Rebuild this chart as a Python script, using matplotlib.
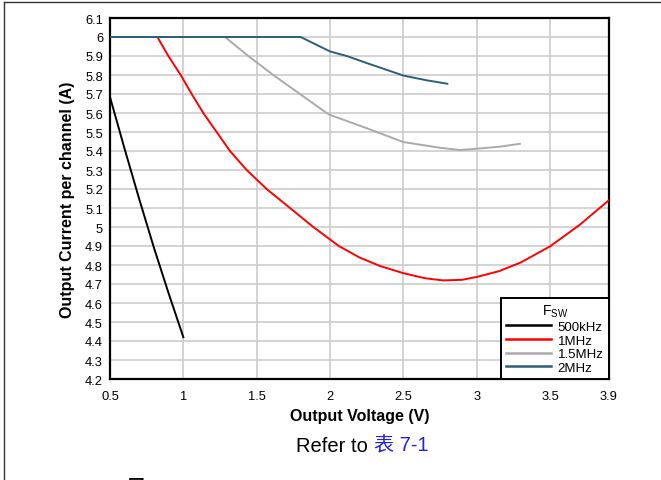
import matplotlib
matplotlib.use("Agg")
import matplotlib.pyplot as plt
from matplotlib.lines import Line2D

plt.rcParams['font.family'] = ['Liberation Sans', 'Noto Sans CJK SC', 'DejaVu Sans']
plt.rcParams['mathtext.fontset'] = 'custom'
plt.rcParams['mathtext.rm'] = 'Liberation Sans'

# data
v_500k = [0.5, 0.6, 0.7, 0.8, 0.9, 1.0]
i_500k = [5.684, 5.41, 5.145, 4.89, 4.65, 4.42]

v_1m = [0.5, 0.823, 0.898, 0.982, 1.057, 1.136, 1.227, 1.318, 1.432, 1.568, 1.727,
        1.886, 2.06, 2.2, 2.34, 2.5, 2.65, 2.77, 2.9, 3.0, 3.15, 3.3, 3.5, 3.7, 3.9]
i_1m = [6.0, 6.0, 5.9, 5.8, 5.7, 5.6, 5.5, 5.4, 5.3, 5.2, 5.1,
        5.0, 4.9, 4.84, 4.795, 4.757, 4.73, 4.719, 4.722, 4.737, 4.767, 4.813, 4.898, 5.01, 5.14]

v_1m5 = [0.5, 1.284, 1.443, 1.613, 1.795, 1.977, 2.0, 2.25, 2.318, 2.5, 2.75, 2.886, 3.0, 3.16, 3.295]
i_1m5 = [6.0, 6.0, 5.9, 5.8, 5.7, 5.6, 5.59, 5.52, 5.5, 5.447, 5.417, 5.405, 5.412, 5.423, 5.438]

v_2m = [0.5, 1.80, 2.0, 2.114, 2.25, 2.489, 2.5, 2.66, 2.80]
i_2m = [6.0, 6.0, 5.924, 5.9, 5.863, 5.8, 5.797, 5.772, 5.754]

series_labels = ["500kHz", "1MHz", "1.5MHz", "2MHz"]
series_colors = ["#000000", "#ff0000", "#aaaaaa", "#2c5f78"]

x_ticks = [0.5, 1, 1.5, 2, 2.5, 3, 3.5, 3.9]
y_ticks = [round(4.2 + 0.1 * k, 1) for k in range(20)]

fig = plt.figure(figsize=(6.61, 4.81), dpi=100)
ax = fig.add_axes([110 / 661, 1 - 380 / 481, 498.7 / 661, 361 / 481])

curves = [(v_500k, i_500k), (v_1m, i_1m), (v_1m5, i_1m5), (v_2m, i_2m)]
for (xs, ys), lab, col in zip(curves, series_labels, series_colors):
    ax.plot(xs, ys, color=col, lw=1.4, label=lab, zorder=3, solid_joinstyle='round')

ax.set_xlim(0.5, 3.9)
ax.set_ylim(4.2, 6.1)
ax.set_xticks(x_ticks)
ax.set_xticklabels([f"{t:g}" for t in x_ticks])
ax.set_yticks(y_ticks)
ax.set_yticklabels([f"{t:g}" for t in y_ticks])
ax.tick_params(length=0, labelsize=9.3)
ax.tick_params(axis='x', pad=8)
ax.tick_params(axis='y', pad=5)
ax.grid(True, color="#cccccc", lw=1.2)
ax.set_axisbelow(True)
for s in ax.spines.values():
    s.set_linewidth(1.6)
    s.set_color("black")

ax.set_xlabel("Output Voltage (V)", fontsize=11.5, fontweight='bold', labelpad=4)
ax.set_ylabel("Output Current per channel (A)", fontsize=11.5, fontweight='bold', labelpad=7)

leg = ax.legend(loc='lower right', bbox_to_anchor=(1, 0), borderaxespad=0,
                title=r"F$_{\mathrm{SW}}$", fontsize=9.5, title_fontsize=10,
                fancybox=False, edgecolor='black', framealpha=1,
                handlelength=3.4, handletextpad=0.5, labelspacing=0.1,
                borderpad=0.4)
leg.get_frame().set_linewidth(1.4)
for h in leg.get_lines():
    h.set_linewidth(1.8)

# caption
fig.text(368 / 661, 1 - 446 / 481, "Refer to", ha='right', va='center', fontsize=14.5)
fig.text(374 / 661, 1 - 446 / 481, "表 7-1", ha='left', va='center', fontsize=14.5,
         color="#2020e0")
fig.text(128 / 661, 1 - 478.5 / 481, "图 6-20. Maximum Output Current vs Output Voltage",
         ha='left', va='top', fontsize=12, fontweight='bold')

# page frame lines
fig.add_artist(Line2D([4 / 661, 1], [1 - 3 / 481, 1 - 3 / 481], color="#333333", lw=1))
fig.add_artist(Line2D([4 / 661, 4 / 661], [0, 1 - 3 / 481], color="#333333", lw=1))

fig.savefig("out.png", dpi=100)
